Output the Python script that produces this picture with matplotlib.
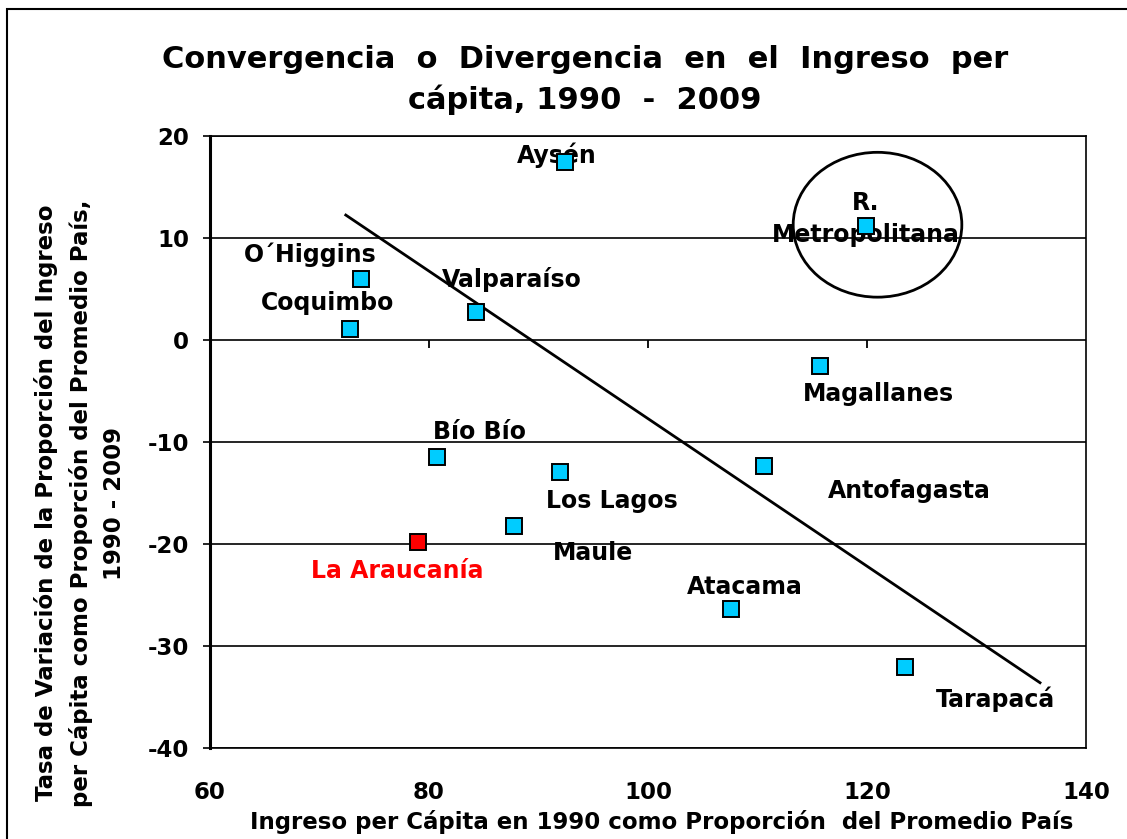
import matplotlib
matplotlib.use('Agg')
import matplotlib.pyplot as plt
from matplotlib.lines import TICKDOWN
from matplotlib.patches import Ellipse, Rectangle

plt.rcParams['axes.unicode_minus'] = False

regions = ['Aysén', 'R.\nMetropolitana', 'O´Higgins', 'Coquimbo', 'Valparaíso',
           'Magallanes', 'Bío Bío', 'Los Lagos', 'Antofagasta', 'Maule',
           'La Araucanía', 'Atacama', 'Tarapacá']
ingreso_1990 = [92.4, 119.9, 73.8, 72.8, 84.3, 115.7, 80.7, 92.0, 110.6, 87.8,
                79.0, 107.6, 123.5]
tasa_variacion = [17.5, 11.2, 6.0, 1.1, 2.75, -2.55, -11.5, -12.9, -12.35, -18.2,
                  -19.8, -26.4, -32.1]

trend_x = [72.4, 135.8]
trend_y = [12.25, -33.6]

# label offsets in pixels (dx, dy) from each point
offsets = {'Aysén': (-8, 6), 'R.\nMetropolitana': (0, 7), 'O´Higgins': (-51, 24),
           'Coquimbo': (-23, 26), 'Valparaíso': (36, 32), 'Magallanes': (59, -28),
           'Bío Bío': (43, 25), 'Los Lagos': (51, -29), 'Antofagasta': (145, -25),
           'Maule': (79, -27), 'La Araucanía': (-21, -29), 'Atacama': (14, 22),
           'Tarapacá': (90, -32)}

highlight = 'La Araucanía'

fig = plt.figure(figsize=(11.27, 8.39), dpi=100)
ax = fig.add_axes([210 / 1127, 1 - 748 / 839, 876 / 1127, 612 / 839])

ax.set_xlim(60, 140)
ax.set_ylim(-40, 20)
ax.set_xticks([60, 80, 100, 120, 140])
ax.set_yticks([-40, -30, -20, -10, 0, 10, 20])

for yt in ax.get_yticks():
    ax.axhline(yt, color='black', lw=1.2, zorder=1)

# tick marks on the zero line (axis crosses at 0)
ax.plot(ax.get_xticks()[1:-1], [0] * 3, ls='none', marker=TICKDOWN,
        markersize=6, markeredgewidth=1.3, color='black', zorder=1)

ax.plot(trend_x, trend_y, color='black', lw=2, zorder=2)

for name, x, y in zip(regions, ingreso_1990, tasa_variacion):
    fc = '#FF0000' if name == highlight else '#00CCFF'
    ax.plot(x, y, marker='s', markersize=11, markerfacecolor=fc,
            markeredgecolor='black', markeredgewidth=1.4, ls='none', zorder=4)
    dx, dy = offsets[name]
    ax.annotate(name, (x, y), xytext=(dx, dy), textcoords='offset pixels',
                ha='center', va='center', fontsize=17, fontweight='bold',
                color='#FF0000' if name == highlight else 'black',
                linespacing=1.4, zorder=3)

ax.add_patch(Ellipse((120.96, 11.3), 15.4, 14.2, fill=False, edgecolor='black',
                     lw=2, zorder=3))

for s in ['top', 'right', 'bottom']:
    ax.spines[s].set_linewidth(1.2)
ax.spines['left'].set_linewidth(2.2)

ax.tick_params(axis='x', length=0, pad=24, labelsize=16.5)
ax.tick_params(axis='y', length=5, width=1.2, pad=10, labelsize=16.5)
for lab in ax.get_xticklabels() + ax.get_yticklabels():
    lab.set_fontweight('bold')

fig.text(585 / 1127, 1 - 80 / 839,
         'Convergencia  o  Divergencia  en  el  Ingreso  per\ncápita, 1990  -  2009',
         ha='center', va='center', fontsize=22, fontweight='bold', linespacing=1.45)
fig.text(662 / 1127, 1 - 822 / 839,
         'Ingreso per Cápita en 1990 como Proporción  del Promedio País',
         ha='center', va='center', fontsize=16.5, fontweight='bold')
fig.text(80 / 1127, 1 - 503 / 839,
         'Tasa de Variación de la Proporción del Ingreso\n'
         'per Cápita como Proporción del Promedio País,\n1990 - 2009',
         ha='center', va='center', rotation=90, fontsize=16.5,
         fontweight='bold', linespacing=1.55)

fig.add_artist(Rectangle((7 / 1127, -0.05), 1.1, 1.05 - 9 / 839,
                         transform=fig.transFigure, fill=False,
                         edgecolor='black', lw=1.5, clip_on=False))

plt.savefig('out.png', dpi=100)
